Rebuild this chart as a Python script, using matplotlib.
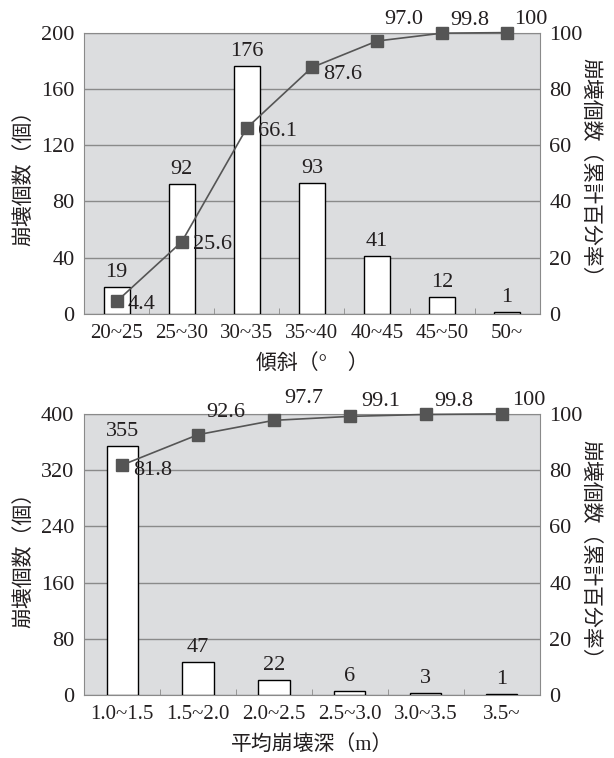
import numpy as np
import matplotlib.pyplot as plt
from matplotlib.ticker import FixedLocator

plt.rcParams['font.family'] = ['Liberation Serif', 'Noto Sans CJK JP']

# データ
slope_cats = ['20~25', '25~30', '30~35', '35~40', '40~45', '45~50', '50~']
slope_counts = [19, 92, 176, 93, 41, 12, 1]
slope_cum = [4.4, 25.6, 66.1, 87.6, 97.0, 99.8, 100]
slope_cum_labels = ['4.4', '25.6', '66.1', '87.6', '97.0', '99.8', '100']

depth_cats = ['1.0~1.5', '1.5~2.0', '2.0~2.5', '2.5~3.0', '3.0~3.5', '3.5~']
depth_counts = [355, 47, 22, 6, 3, 1]
depth_cum = [81.8, 92.6, 97.7, 99.1, 99.8, 100]
depth_cum_labels = ['81.8', '92.6', '97.7', '99.1', '99.8', '100']

bg = '#dcdddf'
grid_c = '#8a8a8a'
line_c = '#555555'
txt_c = '#231f20'
num_fs = 16
jp_fs = 15


def draw_panel(fig, rect, cats, counts, cum, cum_labels, ymax, ystep,
               xlabel, lab_offsets, bar_w):
    ax = fig.add_axes(rect)
    n = len(cats)
    x = np.arange(n)
    ax.set_facecolor(bg)
    ax.set_xlim(-0.5, n - 0.5)
    ax.set_ylim(0, ymax)
    ax.set_yticks(np.arange(0, ymax + 1, ystep))
    ax.yaxis.grid(True, color=grid_c, linewidth=1)
    ax.set_axisbelow(True)
    ax.bar(x, counts, width=bar_w, color='white', edgecolor='black',
           linewidth=1, zorder=3)
    for xi, c in zip(x, counts):
        ax.annotate(str(c), (xi, c), xytext=(0, 5), textcoords='offset pixels',
                    ha='center', va='bottom', fontsize=num_fs, color=txt_c,
                    zorder=5)
    ax.set_xticks(x)
    ax.set_xticklabels(cats, fontsize=15, color=txt_c)
    ax.tick_params(axis='x', length=0, pad=7)
    ax.tick_params(axis='y', length=0, pad=7, labelsize=num_fs,
                   labelcolor=txt_c)
    ax.xaxis.set_minor_locator(FixedLocator(x[:-1] + 0.5))
    ax.tick_params(axis='x', which='minor', direction='in', length=4,
                   color=grid_c)
    for s in ax.spines.values():
        s.set_color(grid_c)
    ax.set_ylabel('崩壊個数（個）', fontsize=jp_fs, color=txt_c, labelpad=5)
    ax.set_xlabel(xlabel, fontsize=jp_fs, color=txt_c, labelpad=8)

    ax2 = ax.twinx()
    ax2.set_ylim(0, 100)
    ax2.set_yticks(np.arange(0, 101, 20))
    ax2.tick_params(axis='y', length=0, pad=7, labelsize=num_fs,
                    labelcolor=txt_c)
    for s in ax2.spines.values():
        s.set_visible(False)
    ax2.plot(x, cum, color=line_c, linewidth=1.2, marker='s', markersize=8,
             clip_on=False, zorder=4)
    for xi, v, lab, off in zip(x, cum, cum_labels, lab_offsets):
        ha = 'left' if off[0] < 15 else 'center'
        ax2.annotate(lab, (xi, v), xytext=off, textcoords='offset pixels',
                     ha=ha, va='center', fontsize=num_fs, color=txt_c,
                     annotation_clip=False)
    ax2.set_ylabel('崩壊個数（累計百分率）', fontsize=jp_fs, color=txt_c,
                   rotation=-90, labelpad=12)
    return ax


fig = plt.figure(figsize=(6.14, 7.58), dpi=100)

top_offsets = [(11, -3), (11, -3), (11, -4), (11, -7), (27, 22), (28, 13), (24, 13)]
bot_offsets = [(11, -5), (28, 22), (30, 22), (31, 15), (28, 13), (27, 13)]

draw_panel(fig, [0.137, 0.586, 0.742, 0.371], slope_cats, slope_counts,
           slope_cum, slope_cum_labels, 200, 40, '傾斜（°\u3000）',
           top_offsets, 0.4)
draw_panel(fig, [0.137, 0.083, 0.742, 0.371], depth_cats, depth_counts,
           depth_cum, depth_cum_labels, 400, 80, '平均崩壊深（m）',
           bot_offsets, 0.41)

plt.savefig('out.png', dpi=100)
